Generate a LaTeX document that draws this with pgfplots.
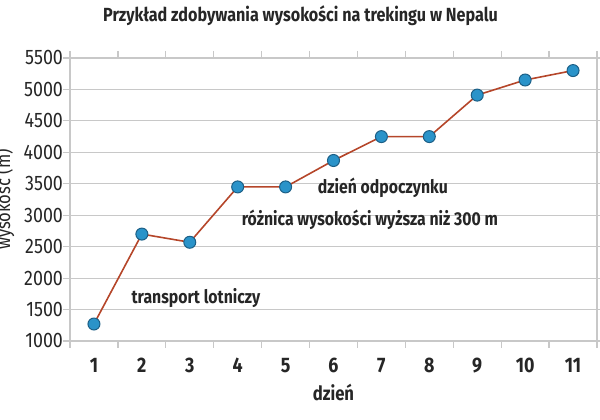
\documentclass[border=0pt]{standalone}
\usepackage{pgfplots}
\pgfplotsset{compat=1.18}
\usepackage{fontspec}
\setmainfont{Fira Sans}[FakeStretch=0.85]

\definecolor{gridgray}{HTML}{C8C8C8}
\definecolor{linered}{HTML}{B5462A}
\definecolor{markblue}{HTML}{2A93C9}
\definecolor{markedge}{HTML}{1C5F86}
\definecolor{txt}{HTML}{262626}

\begin{document}
\begin{tikzpicture}
\begin{axis}[
    scale only axis,
    width=263.5pt, height=141.5pt,
    xmin=0.5, xmax=11.5,
    ymin=1000, ymax=5500,
    xtick={1,...,11},
    minor xtick={0.5,1.5,...,11.5},
    ytick={1000,1500,...,5500},
    major x tick style={draw=none},
    tick align=outside,
    major tick length=3.5pt,
    minor tick length=3.5pt,
    tick style={gridgray, line width=0.6pt},
    axis line style={gridgray, line width=0.6pt},
    ymajorgrids=true,
    grid style={gridgray, line width=0.6pt},
    font=\fontsize{8}{9}\selectfont\color{txt},
    xticklabel style={font=\fontsize{10.5}{11}\selectfont\bfseries\color{txt}, yshift=-1.5pt},
    yticklabel style={font=\fontsize{10.5}{11}\selectfont\color{txt}, xshift=3.5pt},
    /pgf/number format/assume math mode=true,
    /pgf/number format/1000 sep={},
    title={\bfseries Przykład zdobywania wysokości na trekingu w Nepalu},
    title style={font=\fontsize{9.5}{11}\selectfont\color{txt},
        at={(axis description cs:0.5,1)}, anchor=center, yshift=15pt, xshift=-16.5pt},
    xlabel={\bfseries dzień},
    xlabel style={font=\fontsize{9.8}{11}\selectfont\color{txt},
        at={(axis description cs:0.5,0)}, anchor=center, yshift=-25.5pt},
    ylabel={wysokość (m)},
    ylabel style={at={(axis description cs:0,0.5)}, anchor=center, yshift=33pt,
        font=\fontsize{9.8}{11}\selectfont\color{txt}},
]
\addplot[color=linered, line width=0.8pt, mark=*,
    mark options={fill=markblue, draw=markedge, line width=0.5pt},
    mark size=3pt]
coordinates {
    (1,1270) (2,2700) (3,2570) (4,3450) (5,3450) (6,3870)
    (7,4250) (8,4250) (9,4910) (10,5150) (11,5300)
};
\node[font=\fontsize{9.3}{11}\selectfont\bfseries\color{txt}] at (axis cs:7.03,3440) {dzień odpoczynku};
\node[font=\fontsize{9.3}{11}\selectfont\bfseries\color{txt}] at (axis cs:6.76,2920) {różnica wysokości wyższa niż 300 m};
\node[font=\fontsize{9.3}{11}\selectfont\bfseries\color{txt}] at (axis cs:3.13,1680) {transport lotniczy};
\end{axis}
\pgfresetboundingbox
\path (current axis.south west) ++(-35pt,-39.5pt) coordinate (bbA);
\path (current axis.north east) ++(1.5pt,29pt) coordinate (bbB);
\path[use as bounding box] (bbA) rectangle (bbB);
\end{tikzpicture}
\end{document}
